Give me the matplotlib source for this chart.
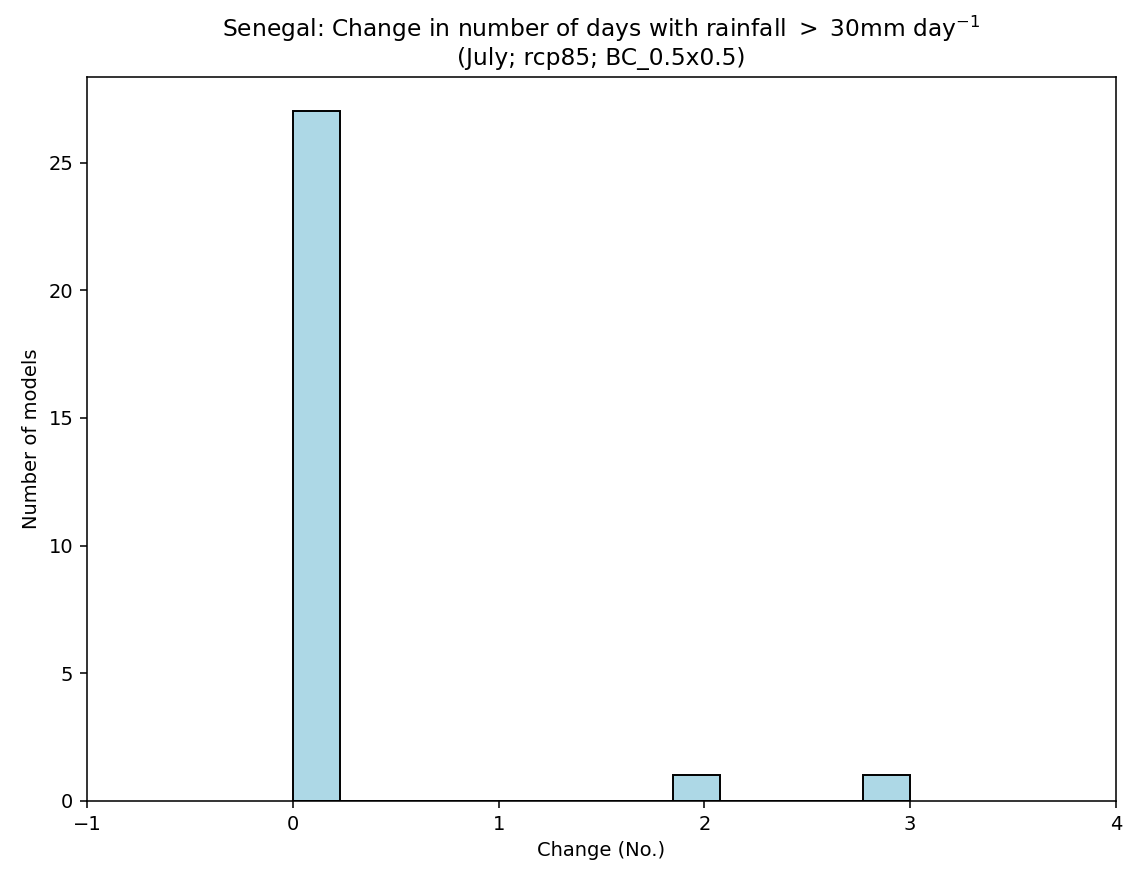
import matplotlib
matplotlib.use('Agg')
import matplotlib.pyplot as plt
import numpy as np

# change in days (No.) per model and how many models give it
changes = [0, 2, 3]
n_models = [27, 1, 1]

fig = plt.figure(figsize=(1127 / 140, 871 / 140), dpi=140)
ax = fig.add_axes([0.0772, 0.0804, 0.9130, 0.8312])

ax.hist(changes, bins=13, weights=n_models, color='lightblue', edgecolor='k')
ax.set_xlim(-1, 4)
ax.set_xlabel('Change (No.)')
ax.set_ylabel('Number of models')
ax.set_title('Senegal: Change in number of days with rainfall $>$ 30mm day$^{-1}$\n'
             '(July; rcp85; BC_0.5x0.5)')

fig.savefig('out.png', dpi=140)
